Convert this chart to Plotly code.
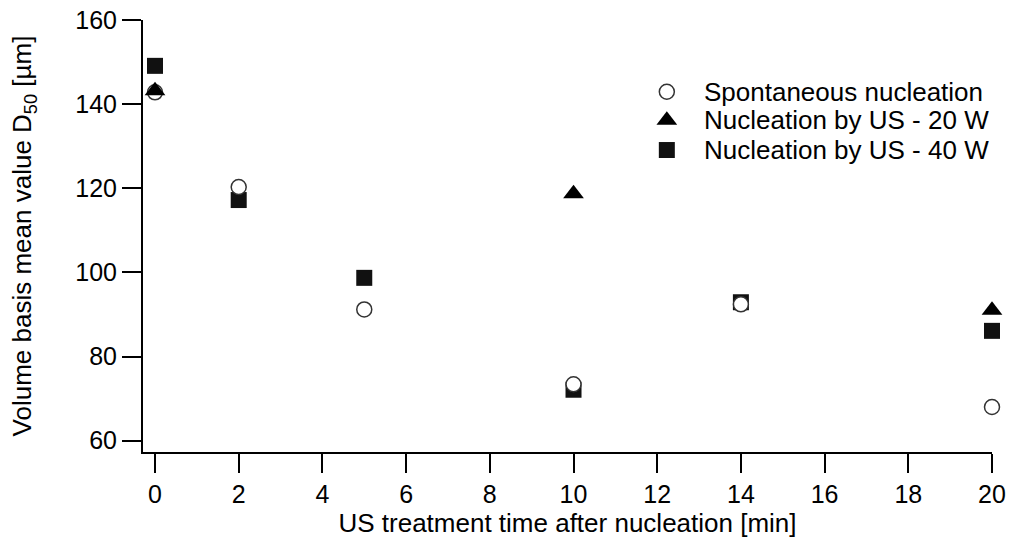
import plotly.graph_objects as go

# ---- data ----
x_spont = [0, 2, 5, 10, 14, 20]
y_spont = [142.8, 120.3, 91.2, 73.4, 92.4, 68.0]

x_us20 = [0, 10, 20]
y_us20 = [143.2, 118.7, 91.0]

x_us40 = [0, 2, 5, 10, 14, 20]
y_us40 = [149.1, 117.2, 98.7, 72.1, 92.9, 86.1]

legend_labels = ["Spontaneous nucleation", "Nucleation by US - 20 W", "Nucleation by US - 40 W"]
x_ticks = list(range(0, 21, 2))
y_ticks = list(range(60, 161, 20))

FONT = "Liberation Sans, Arial, sans-serif"

fig = go.Figure()

circle_marker = dict(symbol="circle", size=15, color="white", line=dict(color="#333333", width=1.5))
tri_marker = dict(symbol="triangle-up", size=18, color="black", line=dict(width=0))
sq_marker = dict(symbol="square", size=16, color="#111111", line=dict(width=0))

# draw order: squares, circles, triangles (as in reference)
fig.add_trace(go.Scatter(x=x_us40, y=y_us40, mode="markers", name=legend_labels[2],
                         marker=sq_marker, cliponaxis=False, showlegend=False))
fig.add_trace(go.Scatter(x=x_spont, y=y_spont, mode="markers", name=legend_labels[0],
                         marker=circle_marker, cliponaxis=False, showlegend=False))
fig.add_trace(go.Scatter(x=x_us20, y=y_us20, mode="markers", name=legend_labels[1],
                         marker=tri_marker, cliponaxis=False, showlegend=False))

# ---- custom legend (helper axes spanning the plot area, range 0..1) ----
leg_x_marker = 0.617
leg_x_text = 0.659
leg_rows = [0.834, 0.768, 0.699]
for lab, mk, yy in zip(legend_labels, [circle_marker, tri_marker, sq_marker], leg_rows):
    fig.add_trace(go.Scatter(x=[leg_x_marker], y=[yy], mode="markers", marker=mk,
                             xaxis="x2", yaxis="y2", showlegend=False, hoverinfo="skip",
                             cliponaxis=False))
    fig.add_annotation(x=leg_x_text, y=yy, xref="paper", yref="paper", text=lab,
                       showarrow=False, xanchor="left", yanchor="middle",
                       font=dict(family=FONT, size=26, color="black"))

fig.update_layout(
    width=1011, height=550,
    margin=dict(l=143, r=19, t=20, b=98, autoexpand=False),
    paper_bgcolor="white", plot_bgcolor="white",
    font=dict(family=FONT, color="black"),
    xaxis=dict(
        range=[-0.287, 20], tickvals=x_ticks, showgrid=False, zeroline=False,
        showline=True, linecolor="black", linewidth=2, automargin=False,
        ticks="outside", ticklen=19, tickwidth=2, tickcolor="black",
        tickfont=dict(family=FONT, size=25, color="black"),
        title=dict(text="US treatment time after nucleation [min]",
                   font=dict(family=FONT, size=26, color="black"), standoff=4),
    ),
    yaxis=dict(
        range=[57.3, 160], tickvals=y_ticks, showgrid=False, zeroline=False,
        showline=True, linecolor="black", linewidth=2, automargin=False,
        ticks="outside", ticklen=19, tickwidth=2, tickcolor="black",
        tickfont=dict(family=FONT, size=25, color="black"),
        title=dict(text="Volume basis mean value D<sub>50</sub> [µm]",
                   font=dict(family=FONT, size=26, color="black"), standoff=36),
    ),
    xaxis2=dict(range=[0, 1], overlaying="x", visible=False, fixedrange=True),
    yaxis2=dict(range=[0, 1], overlaying="y", visible=False, fixedrange=True),
    showlegend=False,
)

fig.write_html("out.html")
